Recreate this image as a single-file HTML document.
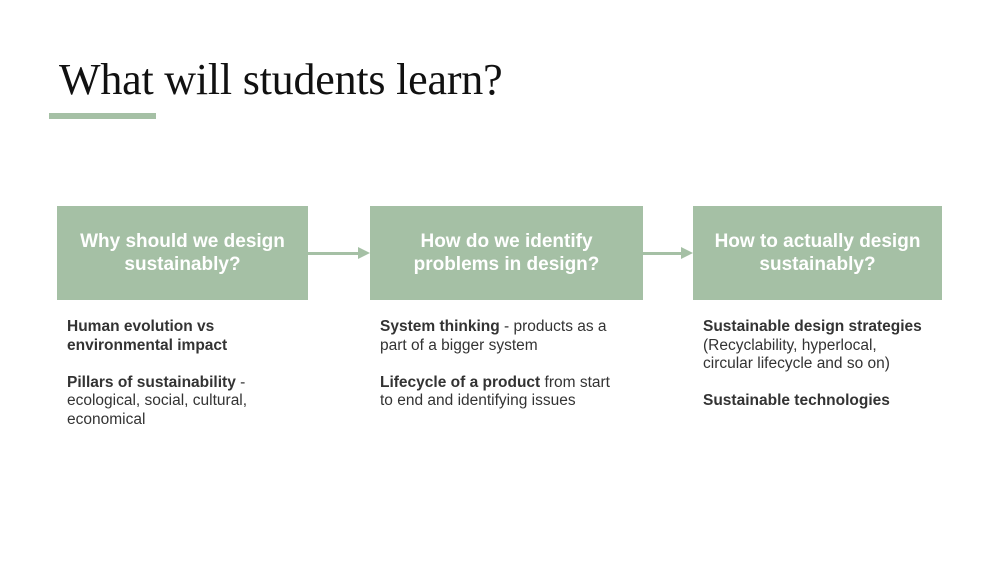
<!DOCTYPE html>
<html><head><style>
body{margin:0;width:1000px;height:563px;background:#fff;position:relative;overflow:hidden;font-family:"Liberation Sans",sans-serif}
.t{position:absolute;left:59px;top:54px;font-family:"Liberation Serif",serif;font-size:44px;color:#111;white-space:nowrap;letter-spacing:-0.2px}
.bar{position:absolute;left:49px;top:113px;width:107px;height:6px;background:#a5c0a5}
.box{position:absolute;top:206px;height:94px;background:#a5c0a5;color:#fff;font-weight:bold;font-size:19px;line-height:23px;text-align:center;display:flex;align-items:center;justify-content:center}
.txt{position:absolute;top:318px;font-size:15.5px;line-height:18.5px;color:#333;white-space:nowrap}
.txt b{color:#333}
.arr{position:absolute;top:252px;height:3px;background:#a5c0a5}
.head{position:absolute;top:247px;width:0;height:0;border-top:6.5px solid transparent;border-bottom:6.5px solid transparent;border-left:12px solid #a5c0a5}
</style></head><body>
<div class="t">What will students learn?</div>
<div class="bar"></div>
<div class="box" style="left:57px;width:251px">Why should we design<br>sustainably?</div>
<div class="box" style="left:370px;width:273px">How do we identify<br>problems in design?</div>
<div class="box" style="left:693px;width:249px">How to actually design<br>sustainably?</div>
<div class="arr" style="left:308px;width:52px"></div><div class="head" style="left:358px"></div>
<div class="arr" style="left:643px;width:40px"></div><div class="head" style="left:681px"></div>
<div class="txt" style="left:67px"><b>Human evolution vs<br>environmental impact</b><br><br><b>Pillars of sustainability</b> -<br>ecological, social, cultural,<br>economical</div>
<div class="txt" style="left:380px"><b>System thinking</b> - products as a<br>part of a bigger system<br><br><b>Lifecycle of a product</b> from start<br>to end and identifying issues</div>
<div class="txt" style="left:703px"><b>Sustainable design strategies</b><br>(Recyclability, hyperlocal,<br>circular lifecycle and so on)<br><br><b>Sustainable technologies</b></div>
</body></html>
